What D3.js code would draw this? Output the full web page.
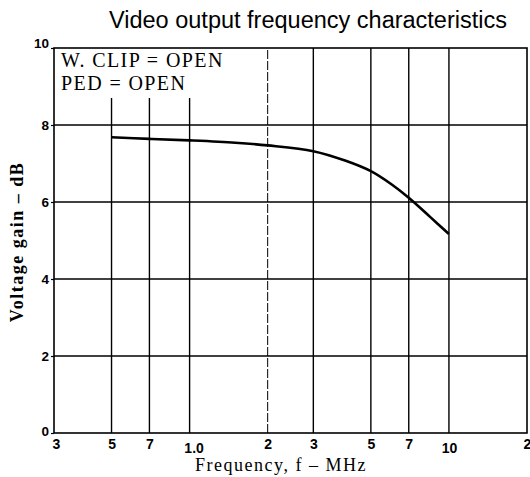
<!DOCTYPE html>
<html>
<head>
<meta charset="utf-8">
<script src="https://cdn.jsdelivr.net/npm/d3@7"></script>
<style>
  body { margin: 0; background: #fff; }
  svg { display: block; }
</style>
</head>
<body>
<svg id="chart"></svg>
<script>
// values
const freqs = [0.5, 0.7, 1.0, 1.5, 2, 3, 4, 5, 6, 7, 8.5, 10]
const gains = [7.68, 7.64, 7.60, 7.54, 7.47, 7.32, 7.07, 6.80, 6.46, 6.11, 5.60, 5.17]

const xTicks = [0.3, 0.5, 0.7, 1, 2, 3, 5, 7, 10, 20]
const xTickLabels = ['3', '5', '7', '1.0', '2', '3', '5', '7', '10', '2']
const xGrid = [0.5, 0.7, 1, 2, 3, 5, 7, 10]
const shortGrid = [0.5, 0.7, 1]   // these stop below the condition box
const yTicks = [0, 2, 4, 6, 8, 10]
const notes = ['W. CLIP = OPEN', 'PED = OPEN']

const width = 530
const height = 477
const svg = d3.select('#chart').attr('width', width).attr('height', height)

const xScale = d3.scaleLog().domain([0.3, 20]).range([54, 527])
const yScale = d3.scaleLinear().domain([0, 10]).range([433, 48])

// title
svg.append('text')
    .attr('x', 308).attr('y', 28)
    .attr('text-anchor', 'middle')
    .style('font-family', '"Liberation Sans", Arial, sans-serif')
    .style('font-size', '23.5px')
    .text('Video output frequency characteristics')

// horizontal grid
svg.append('g')
    .selectAll('line')
    .data(yTicks.filter(d => d > 0 && d < 10))
    .enter()
    .append('line')
    .attr('x1', xScale(0.3)).attr('x2', xScale(20))
    .attr('y1', d => yScale(d)).attr('y2', d => yScale(d))
    .attr('stroke', '#000').attr('stroke-width', 1.3)

// vertical grid
svg.append('g')
    .selectAll('line')
    .data(xGrid)
    .enter()
    .append('line')
    .attr('x1', d => xScale(d)).attr('x2', d => xScale(d))
    .attr('y1', yScale(0))
    .attr('y2', d => shortGrid.includes(d) ? yScale(8.7) : yScale(10))
    .attr('stroke', '#000')
    .attr('stroke-width', d => d === 2 ? 1 : 1.4)
    .attr('stroke-dasharray', d => d === 2 ? '9,2' : null)

// frame
svg.append('rect')
    .attr('x', xScale(0.3)).attr('y', yScale(10))
    .attr('width', xScale(20) - xScale(0.3))
    .attr('height', yScale(0) - yScale(10))
    .attr('fill', 'none').attr('stroke', '#000').attr('stroke-width', 1.6)

// axes (labels only, frame drawn above)
const xAxis = d3.axisBottom(xScale)
    .tickValues(xTicks)
    .tickSize(0)
    .tickFormat((d, i) => xTickLabels[i])
const xg = svg.append('g')
    .attr('transform', 'translate(0,' + yScale(0) + ')')
    .call(xAxis)
xg.select('.domain').remove()
xg.selectAll('text')
    .attr('y', (d, i) => (xTickLabels[i] === '1.0' || xTickLabels[i] === '10') ? 10 : 6)
    .attr('dx', (d, i) => xTickLabels[i] === '1.0' ? 4 : (i === 0 ? 2 : 0))
    .attr('fill', '#000')
    .style('font-family', '"Liberation Sans", Arial, sans-serif')
    .style('font-size', '14px')
    .style('font-weight', 'bold')

const yAxis = d3.axisLeft(yScale)
    .tickValues(yTicks)
    .tickSize(3)
    .tickPadding(2)
const yg = svg.append('g')
    .attr('transform', 'translate(' + xScale(0.3) + ',0)')
    .call(yAxis)
yg.select('.domain').remove()
yg.selectAll('line').attr('stroke', '#000').attr('stroke-width', 1.2)
yg.selectAll('text')
    .attr('dy', (d) => d === 10 ? '-0.05em' : (d === 0 ? '0.15em' : '0.32em'))
    .attr('fill', '#000')
    .style('font-family', '"Liberation Sans", Arial, sans-serif')
    .style('font-size', '13.5px')
    .style('font-weight', 'bold')

// condition box
svg.append('g')
    .selectAll('text')
    .data(notes)
    .enter()
    .append('text')
    .attr('x', xScale(0.3) + 7)
    .attr('y', (d, i) => 67 + i * 23)
    .style('font-family', '"Liberation Serif", "Times New Roman", serif')
    .style('font-size', '20px')
    .style('letter-spacing', '1.4px')
    .text(d => d)

// axis titles
svg.append('text')
    .attr('x', 281).attr('y', 471)
    .attr('text-anchor', 'middle')
    .style('font-family', '"Liberation Serif", "Times New Roman", serif')
    .style('font-size', '18px')
    .style('letter-spacing', '1.5px')
    .text('Frequency, f \u2013 MHz')

svg.append('text')
    .attr('transform', 'translate(23,242) rotate(-90)')
    .attr('text-anchor', 'middle')
    .style('font-family', '"Liberation Serif", "Times New Roman", serif')
    .style('font-size', '18px')
    .style('font-weight', 'bold')
    .style('letter-spacing', '1.5px')
    .text('Voltage gain \u2013 dB')

// response curve
const points = freqs.map((f, i) => [f, gains[i]])
const line = d3.line()
    .x(d => xScale(d[0]))
    .y(d => yScale(d[1]))
    .curve(d3.curveCatmullRom.alpha(0.5))
svg.append('path')
    .datum(points)
    .attr('d', line)
    .attr('fill', 'none')
    .attr('stroke', '#000')
    .attr('stroke-width', 2.6)
</script>
</body>
</html>
